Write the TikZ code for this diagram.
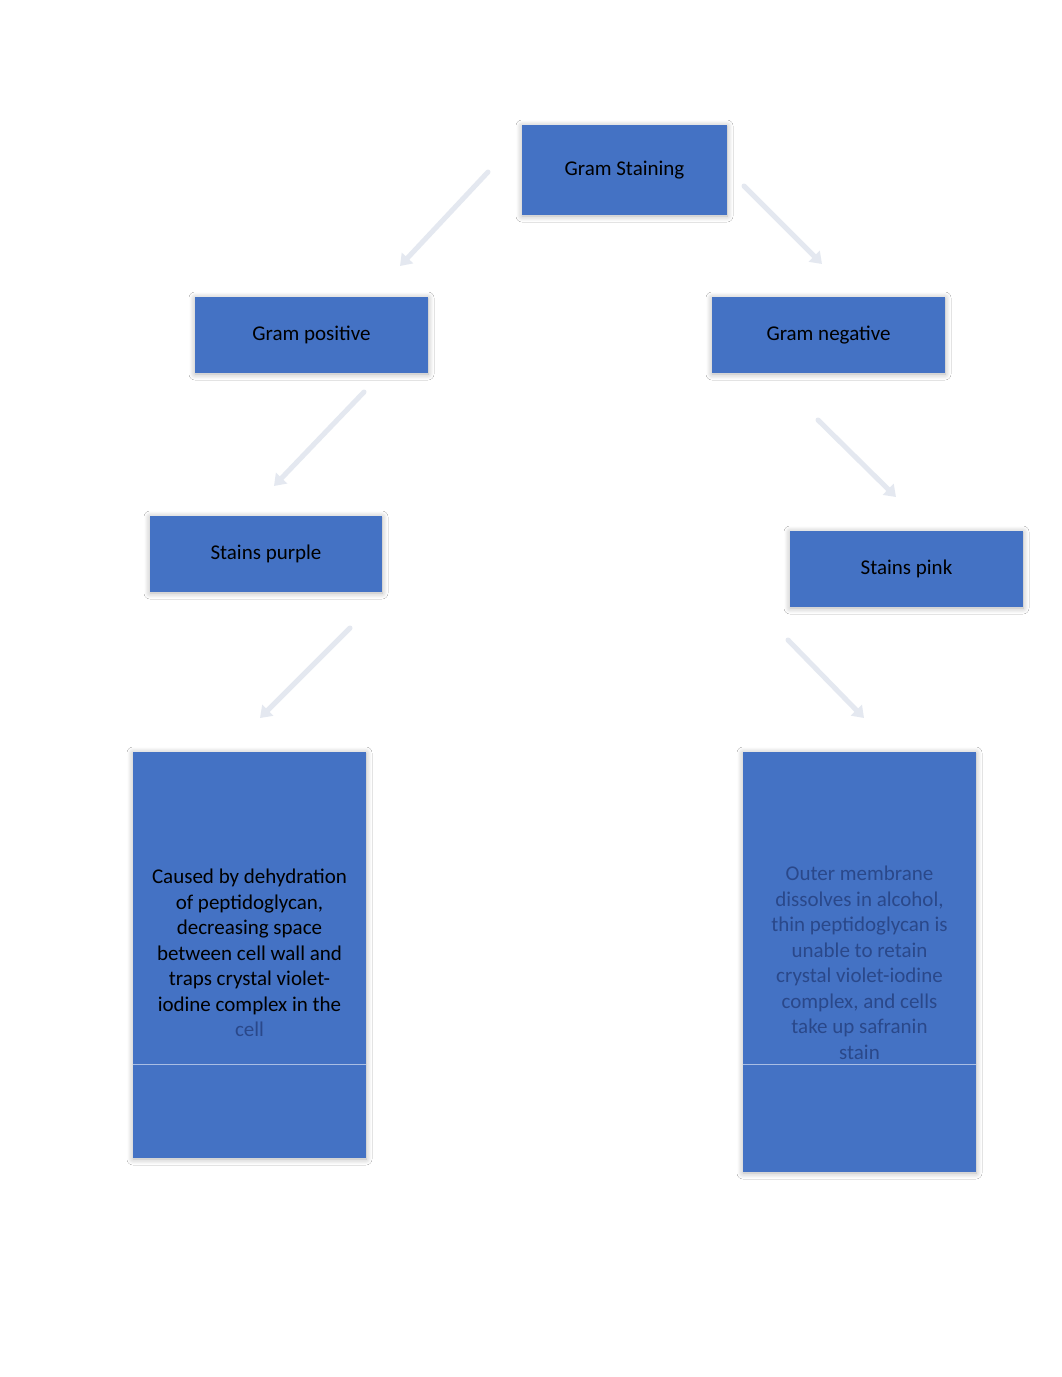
\documentclass[tikz,border=0pt]{standalone}
\usepackage{fontspec}
\setmainfont{Carlito}
\usetikzlibrary{arrows.meta,shadows.blur}
\definecolor{boxblue}{HTML}{4472C4}
\definecolor{arrowgrey}{RGB}{228,232,240}
\definecolor{blurtext}{RGB}{42,72,138}
\definecolor{seamline}{RGB}{170,190,228}
\tikzset{
  boxnode/.style={fill=boxblue, draw=none, text=black, align=center,
    font=\fontsize{21}{25.5}\selectfont,
    blur shadow={shadow xshift=0pt, shadow yshift=-1pt, shadow blur radius=6pt, shadow opacity=30, shadow blur steps=8}},
  bodytext/.style={align=center, font=\fontsize{21}{25.5}\selectfont, anchor=center},
  connector/.style={draw=arrowgrey, line width=5pt, line cap=round,
    -{Triangle[width=15pt,length=11pt]}},
  seam/.style={draw=seamline, line width=0.8pt}
}
\begin{document}
\begin{tikzpicture}[x=1pt,y=-1pt]
\fill[white] (0,0) rectangle (1062,1377);
\useasboundingbox (0,0) rectangle (1062,1377);

\node[boxnode, minimum width=205pt, minimum height=90pt] (root) at (624.5,170) {Gram Staining};
\node[boxnode, minimum width=233pt, minimum height=76pt] (pos) at (311.5,335) {Gram positive};
\node[boxnode, minimum width=233pt, minimum height=76pt] (neg) at (828.5,335) {Gram negative};
\node[boxnode, minimum width=232pt, minimum height=76pt] (purple) at (266,554) {Stains purple};
\node[boxnode, minimum width=233pt, minimum height=76pt] (pink) at (906.5,569) {Stains pink};

\node[boxnode, minimum width=233pt, minimum height=406pt] (posx) at (249.5,955) {};
\node[boxnode, minimum width=233pt, minimum height=420pt] (negx) at (859.5,962) {};

\node[bodytext, text=black] (posxt) at (249.5,953)
  {Caused by dehydration\\of peptidoglycan,\\decreasing space\\between cell wall and\\traps crystal violet-\\iodine complex in the\\\textcolor{blurtext}{cell}};
\node[bodytext, text=blurtext] (negxt) at (859.5,963)
  {Outer membrane\\dissolves in alcohol,\\thin peptidoglycan is\\unable to retain\\crystal violet-iodine\\complex, and cells\\take up safranin\\stain};

\draw[seam] (posx.west |- 0,1064) -- (posx.east |- 0,1064);
\draw[seam] (negx.west |- 0,1064) -- (negx.east |- 0,1064);

\coordinate (a1s) at (488,172); \coordinate (a1e) at (400,266);
\coordinate (a2s) at (744,186); \coordinate (a2e) at (822,264);
\coordinate (a3s) at (364,392); \coordinate (a3e) at (274,486);
\coordinate (a4s) at (818,420); \coordinate (a4e) at (896,497);
\coordinate (a5s) at (350,628); \coordinate (a5e) at (260,718);
\coordinate (a6s) at (788,640); \coordinate (a6e) at (864,718);
\draw[connector] (a1s) -- (a1e);
\draw[connector] (a2s) -- (a2e);
\draw[connector] (a3s) -- (a3e);
\draw[connector] (a4s) -- (a4e);
\draw[connector] (a5s) -- (a5e);
\draw[connector] (a6s) -- (a6e);
\end{tikzpicture}
\end{document}
